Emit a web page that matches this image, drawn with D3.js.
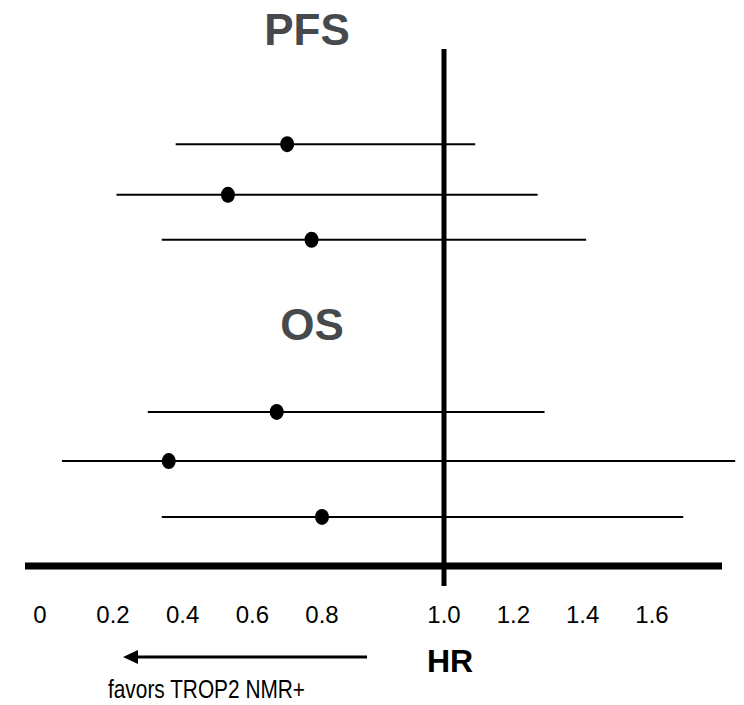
<!doctype html>
<html>
<head>
  <meta charset="utf-8">
  <title>PFS / OS forest plot</title>
  <script src="https://d3js.org/d3.v7.min.js"></script>
  <style>
    body { margin: 0; background: #fff; }
    svg text { font-family: "Liberation Sans", Arial, sans-serif; }
  </style>
</head>
<body>
<div id="chart"></div>
<script>
// hazard ratios with confidence limits
var groups   = ["PFS", "OS"];
var groupPos = [10.08, 4.37];         // baseline slot of each group title
var rowGroup = ["PFS", "PFS", "PFS", "OS", "OS", "OS"];
var rowPos   = [8.16, 7.18, 6.31, 2.98, 2.03, 0.95];
var hr       = [0.70, 0.53, 0.77, 0.67, 0.36, 0.80];
var lower    = [0.38, 0.21, 0.34, 0.30, 0.06, 0.34];
var upper    = [1.09, 1.27, 1.41, 1.29, 1.84, 1.69];

// the tick labels on the original are not evenly spaced: 0.8 -> 1.0 gets a wider gap
var tickValues = [0, 0.2, 0.4, 0.6, 0.8, 1.0, 1.2, 1.4, 1.6];
var tickLabels = ["0", "0.2", "0.4", "0.6", "0.8", "1.0", "1.2", "1.4", "1.6"];

var width = 744, height = 705;

var svg = d3.select("#chart")
  .append("svg")
    .attr("width", width)
    .attr("height", height);

var x = d3.scaleLinear()
  .domain([0, 0.2, 0.8, 1.0, 1.6])
  .range([40, 113, 322, 444, 652]);

var y = d3.scaleLinear()
  .domain([0, 10])
  .range([566, 49]);

var rows = hr.map(function(d, i) {
  return {group: rowGroup[i], pos: rowPos[i], hr: d, lo: lower[i], hi: upper[i]};
});

// confidence interval lines
svg.append("g")
  .selectAll("line")
  .data(rows)
  .enter()
  .append("line")
    .attr("x1", function(d) { return x(d.lo); })
    .attr("x2", function(d) { return Math.min(x(d.hi), width); })
    .attr("y1", function(d) { return y(d.pos); })
    .attr("y2", function(d) { return y(d.pos); })
    .style("stroke", "#000")
    .style("stroke-width", 2);

// baseline (x axis)
svg.append("line")
  .attr("x1", 25).attr("x2", 722)
  .attr("y1", y(0)).attr("y2", y(0))
  .style("stroke", "#000")
  .style("stroke-width", 7);

// line of no effect, HR = 1
svg.append("line")
  .attr("x1", x(1)).attr("x2", x(1))
  .attr("y1", y(10)).attr("y2", y(0) + 20)
  .style("stroke", "#000")
  .style("stroke-width", 5);

// point estimates
svg.append("g")
  .selectAll("ellipse")
  .data(rows)
  .enter()
  .append("ellipse")
    .attr("cx", function(d) { return x(d.hr); })
    .attr("cy", function(d) { return y(d.pos); })
    .attr("rx", 7)
    .attr("ry", 8)
    .style("fill", "#000");

// group titles
svg.append("g")
  .selectAll("text")
  .data(groups)
  .enter()
  .append("text")
    .attr("x", function(d, i) { return i == 0 ? 307 : 312; })
    .attr("y", function(d, i) { return y(groupPos[i]); })
    .attr("text-anchor", "middle")
    .style("font-size", "44px")
    .style("font-weight", "bold")
    .style("fill", "#464a4d")
    .text(function(d) { return d; });

// tick labels
svg.append("g")
  .selectAll("text")
  .data(tickValues)
  .enter()
  .append("text")
    .attr("x", function(d) { return x(d); })
    .attr("y", 623)
    .attr("text-anchor", "middle")
    .style("font-size", "24px")
    .style("fill", "#000")
    .text(function(d, i) { return tickLabels[i]; });

// HR label
svg.append("text")
  .attr("x", x(1) + 6)
  .attr("y", 672)
  .attr("text-anchor", "middle")
  .style("font-size", "32px")
  .style("font-weight", "bold")
  .text("HR");

// arrow pointing left
svg.append("line")
  .attr("x1", 367).attr("x2", 134)
  .attr("y1", 657).attr("y2", 657)
  .style("stroke", "#000")
  .style("stroke-width", 3);
svg.append("path")
  .attr("d", "M123,657 L138,650 L138,664 Z")
  .style("fill", "#000");

// the original lettering is a little condensed
svg.append("text")
  .attr("x", 108)
  .attr("y", 698)
  .attr("textLength", 197)
  .attr("lengthAdjust", "spacingAndGlyphs")
  .style("font-size", "26px")
  .text("favors TROP2 NMR+");
</script>
</body>
</html>
